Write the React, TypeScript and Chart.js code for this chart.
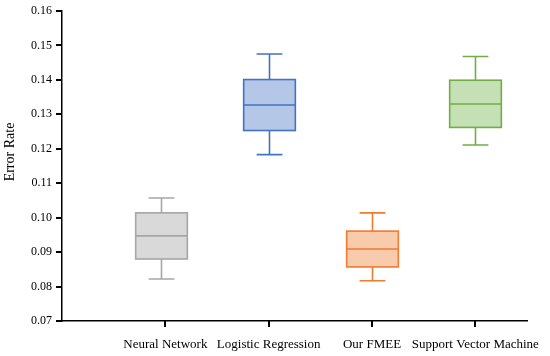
import React, { useEffect, useRef } from "react";
import { Chart, registerables } from "chart.js";

Chart.register(...registerables);

const categories = ["Neural Network", "Logistic Regression", "Our FMEE", "Support Vector Machine"];
const whiskerLow = [0.0822, 0.1183, 0.0817, 0.1211];
const quartile1 = [0.0880, 0.1253, 0.0857, 0.1262];
const medians = [0.0947, 0.1327, 0.0909, 0.1330];
const quartile3 = [0.1014, 0.1401, 0.0961, 0.1399];
const whiskerHigh = [0.1057, 0.1475, 0.1014, 0.1468];
const yTicks = [0.07, 0.08, 0.09, 0.1, 0.11, 0.12, 0.13, 0.14, 0.15, 0.16];

const strokeColors = ["#a6a6a6", "#4472c4", "#f07b2f", "#70ad47"];
const fillColors = ["#d9d9d9", "#b4c7e7", "#f8cbad", "#c5e0b4"];
const boxShift = [-0.045, 0, 0, 0];

const FONT = "'Liberation Serif', 'Times New Roman', serif";

const zeroPad = (scale: any) => {
  scale.paddingLeft = 0;
  scale.paddingRight = 0;
  scale.paddingTop = 0;
  scale.paddingBottom = 0;
};

const boxPlugin = {
  id: "boxes",
  afterDraw(chart: any) {
    const ctx = chart.ctx;
    const xs = chart.scales.x;
    const ys = chart.scales.y;
    const left = xs.left;
    const bottom = ys.bottom;
    const half = xs.getPixelForValue(0.25) - xs.getPixelForValue(0);
    const capHalf = half / 2;
    categories.forEach((_, i) => {
      const cx = Math.round(xs.getPixelForValue(i + boxShift[i])) + 0.5;
      const yLo = ys.getPixelForValue(whiskerLow[i]);
      const yQ1 = ys.getPixelForValue(quartile1[i]);
      const yMed = ys.getPixelForValue(medians[i]);
      const yQ3 = ys.getPixelForValue(quartile3[i]);
      const yHi = ys.getPixelForValue(whiskerHigh[i]);
      ctx.save();
      ctx.strokeStyle = strokeColors[i];
      ctx.lineWidth = 1.6;
      ctx.fillStyle = fillColors[i];
      ctx.fillRect(cx - half, yQ3, half * 2, yQ1 - yQ3);
      ctx.strokeRect(cx - half, yQ3, half * 2, yQ1 - yQ3);
      ctx.beginPath();
      ctx.moveTo(cx - half, yMed);
      ctx.lineTo(cx + half, yMed);
      ctx.moveTo(cx, yQ3);
      ctx.lineTo(cx, yHi);
      ctx.moveTo(cx - capHalf, yHi);
      ctx.lineTo(cx + capHalf, yHi);
      ctx.moveTo(cx, yQ1);
      ctx.lineTo(cx, yLo);
      ctx.moveTo(cx - capHalf, yLo);
      ctx.lineTo(cx + capHalf, yLo);
      ctx.stroke();
      ctx.restore();
    });
    // tick marks
    ctx.save();
    ctx.fillStyle = "#000";
    yTicks.forEach((v) => {
      const y = Math.round(ys.getPixelForValue(v));
      ctx.fillRect(left - 6, y - 1, 6, 2);
    });
    categories.forEach((_, i) => {
      const x = Math.round(xs.getPixelForValue(i));
      ctx.fillRect(x - 1, bottom, 2, 6);
    });
    ctx.restore();
    // y axis title
    ctx.save();
    ctx.fillStyle = "#000";
    ctx.font = `14px ${FONT}`;
    ctx.textAlign = "center";
    ctx.textBaseline = "middle";
    ctx.translate(10, 152);
    ctx.rotate(-Math.PI / 2);
    ctx.fillText("Error Rate", 0, 0);
    ctx.restore();
  },
};

export default function App() {
  const ref = useRef<HTMLCanvasElement>(null);
  useEffect(() => {
    if (!ref.current) return;
    const chart = new Chart(ref.current, {
      type: "scatter",
      data: { datasets: [{ data: [], pointRadius: 0 }] },
      plugins: [boxPlugin],
      options: {
        animation: false,
        responsive: false,
        maintainAspectRatio: false,
        layout: { padding: { top: 11, right: 23, left: 0, bottom: 0 } },
        plugins: { legend: { display: false }, tooltip: { enabled: false } },
        scales: {
          x: {
            type: "linear",
            min: -1,
            max: 3.5,
            afterBuildTicks: (scale: any) => {
              scale.ticks = categories.map((_, i) => ({ value: i }));
            },
            afterFit: (scale: any) => {
              scale.height = 35;
              zeroPad(scale);
            },
            grid: { display: false, tickLength: 5 },
            border: { display: true, color: "#000", width: 1.5 },
            ticks: {
              autoSkip: false,
              maxRotation: 0,
              padding: 11,
              color: "#000",
              font: { family: FONT, size: 13 },
              callback: (v: any) => categories[v] ?? "",
            },
          },
          y: {
            type: "linear",
            min: 0.07,
            max: 0.16,
            afterBuildTicks: (scale: any) => {
              scale.ticks = yTicks.map((v) => ({ value: v }));
            },
            afterFit: (scale: any) => {
              scale.width = 62;
              zeroPad(scale);
            },
            grid: { display: false, tickLength: 5 },
            border: { display: true, color: "#000", width: 1.5 },
            ticks: {
              padding: 5,
              color: "#000",
              font: { family: FONT, size: 12 },
              callback: (v: any) => Number(v).toFixed(2),
            },
          },
        },
      },
    });
    return () => chart.destroy();
  }, []);
  return (
    <div style={{ position: "fixed", left: 0, top: 0, width: 550, height: 356, background: "#fff" }}>
      <canvas ref={ref} width={550} height={356} style={{ width: 550, height: 356 }} />
    </div>
  );
}
